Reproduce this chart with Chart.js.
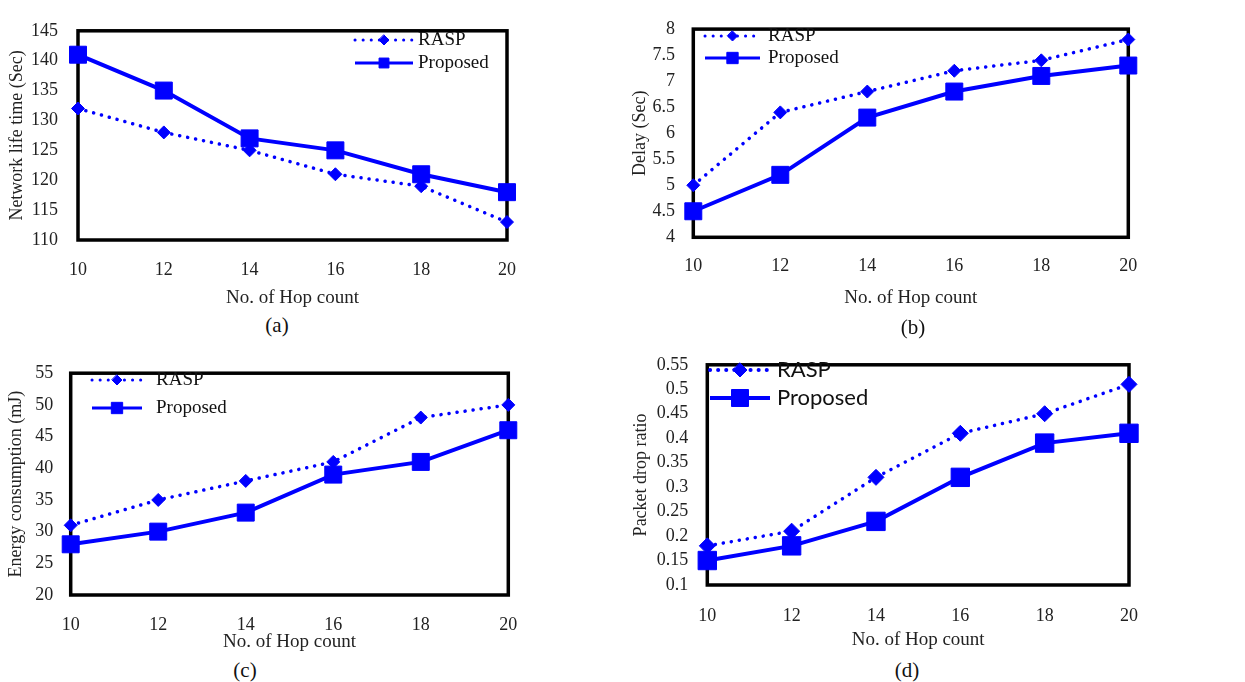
<!DOCTYPE html>
<html>
<head>
<meta charset="utf-8">
<title>Hop count results</title>
<script src="https://cdn.jsdelivr.net/npm/chart.js@4.4.1/dist/chart.umd.min.js"></script>
<style>
  body { margin: 0; background: #fff; width: 1245px; height: 682px; position: relative; overflow: hidden; }
  .panel { position: absolute; }
  .caption { position: absolute; font: 21px 'Liberation Serif', 'Times New Roman', serif; color: #111; transform: translate(-50%, -50%); }
</style>
</head>
<body>
<canvas id="chartA" class="panel" width="540" height="310" style="left:0px;top:0px"></canvas>
<canvas id="chartB" class="panel" width="540" height="310" style="left:620px;top:0px"></canvas>
<canvas id="chartC" class="panel" width="540" height="308" style="left:0px;top:345px"></canvas>
<canvas id="chartD" class="panel" width="540" height="317" style="left:620px;top:335px"></canvas>
<div class="caption" style="left:277px;top:325px">(a)</div>
<div class="caption" style="left:913px;top:327px">(b)</div>
<div class="caption" style="left:245px;top:670px">(c)</div>
<div class="caption" style="left:907px;top:670px">(d)</div>

<script>
// X axis
const hopCounts = ['10', '12', '14', '16', '18', '20'];
const seriesNames = ['RASP', 'Proposed'];

// (a) network life time
const lifeRasp = [132, 128, 125, 121, 119, 113];
const lifeProposed = [141, 135, 127, 125, 121, 118];
const lifeTicks = [110, 115, 120, 125, 130, 135, 140, 145];

// (b) delay
const delayRasp = [5, 6.4, 6.8, 7.2, 7.4, 7.8];
const delayProposed = [4.5, 5.2, 6.3, 6.8, 7.1, 7.3];
const delayTicks = [4, 4.5, 5, 5.5, 6, 6.5, 7, 7.5, 8];

// (c) energy consumption
const energyRasp = [31, 35, 38, 41, 48, 50];
const energyProposed = [28, 30, 33, 39, 41, 46];
const energyTicks = [20, 25, 30, 35, 40, 45, 50, 55];

// (d) packet drop ratio
const dropRasp = [0.18, 0.21, 0.32, 0.41, 0.45, 0.51];
const dropProposed = [0.15, 0.18, 0.23, 0.32, 0.39, 0.41];
const dropTicks = [0.1, 0.15, 0.2, 0.25, 0.3, 0.35, 0.4, 0.45, 0.5, 0.55];

const BLUE = '#0000ff';
const SERIF = "'Liberation Serif', 'Times New Roman', serif";
const TICK_HALF = 18 * 1.2 / 2;
const XTITLE_SIZE = 19;
const XTITLE_HALF = XTITLE_SIZE * 1.2 / 2;

Chart.defaults.font.family = SERIF;
Chart.defaults.font.size = 18;
Chart.defaults.color = '#222';

// diamond / square marker, same shapes as the chart points
function drawMarker(ctx, style, r, x, y) {
  ctx.beginPath();
  if (style === 'rectRot') {
    ctx.moveTo(x, y - r);
    ctx.lineTo(x + r, y);
    ctx.lineTo(x, y + r);
    ctx.lineTo(x - r, y);
    ctx.closePath();
  } else {
    const s = Math.SQRT1_2 * r;
    ctx.rect(x - s, y - s, 2 * s, 2 * s);
  }
  ctx.fill();
  ctx.stroke();
}

// thick black frame around the plot area
const frame = {
  id: 'frame',
  beforeDatasetsDraw(chart) {
    const { ctx, chartArea: a } = chart;
    ctx.save();
    ctx.lineWidth = 3.5;
    ctx.strokeStyle = '#000';
    ctx.strokeRect(a.left, a.top, a.right - a.left, a.bottom - a.top);
    ctx.restore();
  }
};

// legend with a short line sample and the marker in the middle
const lineLegend = {
  id: 'lineLegend',
  afterDatasetsDraw(chart, args, opts) {
    const ctx = chart.ctx;
    chart.data.datasets.forEach((ds, i) => {
      const row = opts.rows[i];
      ctx.save();
      ctx.strokeStyle = ds.borderColor;
      ctx.fillStyle = ds.backgroundColor;
      ctx.lineWidth = row.lineWidth;
      ctx.lineCap = ds.borderCapStyle || 'butt';
      ctx.setLineDash(ds.borderDash || []);
      ctx.beginPath();
      ctx.moveTo(opts.x1, row.y);
      ctx.lineTo(opts.x2, row.y);
      ctx.stroke();
      ctx.setLineDash([]);
      ctx.lineWidth = 1;
      drawMarker(ctx, ds.pointStyle, row.radius, (opts.x1 + opts.x2) / 2, row.y);
      ctx.fillStyle = '#111';
      ctx.font = opts.font;
      ctx.textBaseline = 'middle';
      ctx.fillText(ds.label, opts.textX, row.y);
      ctx.restore();
    });
  }
};

function makeChart(id, p) {
  const padLeft = p.yTitleX - TICK_HALF;
  return new Chart(document.getElementById(id), {
    type: 'line',
    data: {
      labels: hopCounts,
      datasets: [{
        label: seriesNames[0],
        data: p.rasp,
        borderColor: BLUE,
        backgroundColor: BLUE,
        borderWidth: 3.5,
        borderDash: [0.1, 8],
        borderCapStyle: 'round',
        pointStyle: 'rectRot',
        pointRadius: p.diamond,
        pointBorderWidth: 1,
        tension: 0,
        clip: false
      }, {
        label: seriesNames[1],
        data: p.proposed,
        borderColor: BLUE,
        backgroundColor: BLUE,
        borderWidth: 4,
        pointStyle: 'rect',
        pointRadius: p.square,
        pointBorderWidth: 1,
        tension: 0,
        clip: false
      }]
    },
    options: {
      responsive: false,
      animation: false,
      devicePixelRatio: 1,
      layout: { padding: { left: padLeft, top: p.top, right: p.w - p.right, bottom: 0 } },
      plugins: {
        legend: { display: false },
        tooltip: { enabled: false },
        lineLegend: p.legend
      },
      scales: {
        x: {
          type: 'category',
          offset: false,
          grid: { display: false, drawTicks: false },
          border: { display: false },
          ticks: { padding: p.xTickY - p.bottom - TICK_HALF, maxRotation: 0, autoSkip: false },
          title: {
            display: true,
            text: 'No. of Hop count',
            font: { size: XTITLE_SIZE },
            padding: { top: 0, bottom: Math.max(p.h - p.xTitleY - XTITLE_HALF, 0) }
          },
          afterFit: axis => { axis.height = p.h - p.bottom; }
        },
        y: {
          type: 'linear',
          min: p.yTicks[0],
          max: p.yTicks[p.yTicks.length - 1],
          grid: { display: false, drawTicks: false },
          border: { display: false },
          ticks: { padding: p.left - p.yTickRight, autoSkip: false, callback: v => String(v) },
          title: { display: true, text: p.yTitle, padding: 0 },
          afterBuildTicks: axis => { axis.ticks = p.yTicks.map(v => ({ value: v })); },
          afterFit: axis => { axis.width = p.left - padLeft; }
        }
      }
    },
    plugins: [frame, lineLegend]
  });
}

document.addEventListener('DOMContentLoaded', () => {
  const serifLegend = '19px ' + SERIF;

  makeChart('chartA', {
    w: 540, h: 310, left: 78, top: 16, right: 507, bottom: 240,
    yTitleX: 17, yTickRight: 58, xTickY: 270, xTitleY: 298,
    yTitle: 'Network life time (Sec)', yTicks: lifeTicks,
    rasp: lifeRasp, proposed: lifeProposed, diamond: 6.5, square: 12,
    legend: { x1: 355, x2: 413, textX: 418, font: serifLegend,
      rows: [{ y: 40, radius: 5, lineWidth: 3 }, { y: 63, radius: 7, lineWidth: 3 }] }
  });

  makeChart('chartB', {
    w: 540, h: 310, left: 73.3, top: 17.3, right: 508.3, bottom: 237.3,
    yTitleX: 20, yTickRight: 55, xTickY: 266.7, xTitleY: 298.3,
    yTitle: 'Delay (Sec)', yTicks: delayTicks,
    rasp: delayRasp, proposed: delayProposed, diamond: 6.5, square: 12,
    legend: { x1: 85, x2: 140, textX: 148, font: serifLegend,
      rows: [{ y: 36, radius: 5, lineWidth: 3 }, { y: 58, radius: 8, lineWidth: 3 }] }
  });

  makeChart('chartC', {
    w: 540, h: 308, left: 70.7, top: 16.7, right: 508.3, bottom: 250,
    yTitleX: 16.7, yTickRight: 53.3, xTickY: 280, xTitleY: 296.7,
    yTitle: 'Energy consumption (mJ)', yTicks: energyTicks,
    rasp: energyRasp, proposed: energyProposed, diamond: 6.5, square: 12,
    legend: { x1: 92, x2: 142, textX: 156, font: serifLegend,
      rows: [{ y: 35, radius: 5, lineWidth: 3 }, { y: 63, radius: 8, lineWidth: 3 }] }
  });

  makeChart('chartD', {
    w: 540, h: 317, left: 87.3, top: 16.7, right: 509, bottom: 250,
    yTitleX: 21.7, yTickRight: 68.3, xTickY: 281, xTitleY: 305,
    yTitle: 'Packet drop ratio', yTicks: dropTicks,
    rasp: dropRasp, proposed: dropProposed, diamond: 8, square: 13,
    legend: { x1: 90, x2: 150, textX: 157, font: "22px Lato, 'Liberation Sans', sans-serif",
      rows: [{ y: 35, radius: 7, lineWidth: 4 }, { y: 63, radius: 12, lineWidth: 4 }] }
  });
});
</script>
</body>
</html>
